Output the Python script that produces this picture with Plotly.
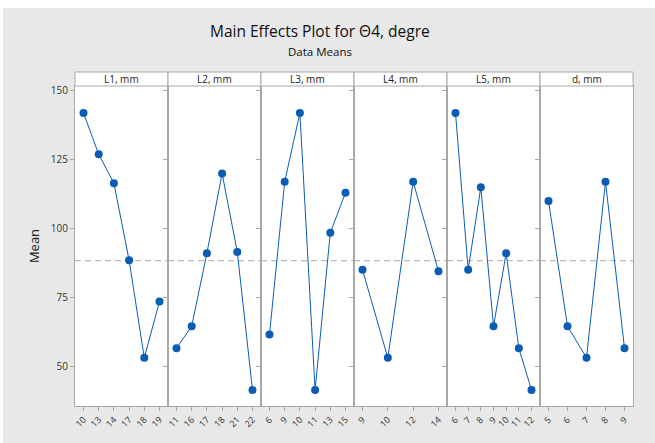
import plotly.graph_objects as go
from plotly.subplots import make_subplots

# ---- data ----
factor_names = ["L1, mm", "L2, mm", "L3, mm", "L4, mm", "L5, mm", "d, mm"]
L1_levels = ["10", "13", "14", "17", "18", "19"]
L1_means = [142, 127, 116.5, 88.5, 53, 73.5]
L2_levels = ["11", "16", "17", "18", "21", "22"]
L2_means = [56.5, 64.5, 91, 120, 91.5, 41.3]
L3_levels = ["6", "9", "10", "11", "13", "15"]
L3_means = [61.5, 117, 142, 41.3, 98.5, 113]
L4_levels = ["9", "10", "12", "14"]
L4_means = [85, 53, 117, 84.5]
L5_levels = ["6", "7", "8", "9", "10", "11", "12"]
L5_means = [142, 85, 115, 64.5, 91, 56.5, 41.3]
d_levels = ["5", "6", "7", "8", "9"]
d_means = [110, 64.5, 53, 117, 56.5]
overall_mean = 88.3
y_ticks = [50, 75, 100, 125, 150]

factors = [
    (factor_names[0], L1_levels, L1_means),
    (factor_names[1], L2_levels, L2_means),
    (factor_names[2], L3_levels, L3_means),
    (factor_names[3], L4_levels, L4_means),
    (factor_names[4], L5_levels, L5_means),
    (factor_names[5], d_levels, d_means),
]

BLUE = "#0a5cb4"
FRAME = "#a8a8a8"
BG = "#e8e8e8"
FONT = "Open Sans"

W, H = 655, 443
ML, MR, MT, MB = 75, 22, 86, 37
PW = W - ML - MR
PH = H - MT - MB
panel_w = PW / 6.0
edge_px = 8.5
strip_h = 14

def py(Y):  # pixel row -> paper y
    return (MT + PH - Y) / PH

def px(X):  # pixel col -> paper x
    return (X - ML) / PW

fig = make_subplots(rows=1, cols=6, shared_yaxes=True, horizontal_spacing=0)

for i, (name, levels, means) in enumerate(factors):
    n = len(levels)
    xs = list(range(n))
    fig.add_trace(
        go.Scatter(
            x=xs, y=means, mode="lines+markers",
            line=dict(color=BLUE, width=1),
            marker=dict(size=8, color=BLUE),
            showlegend=False, hoverinfo="x+y", cliponaxis=False,
        ),
        row=1, col=i + 1,
    )
    gap = (panel_w - 2 * edge_px) / (n - 1)
    pad = edge_px / gap
    fig.update_xaxes(
        range=[-pad, n - 1 + pad], tickmode="array", tickvals=xs, ticktext=levels,
        tickangle=-45, ticks="outside", ticklen=4, tickcolor=FRAME,
        tickfont=dict(family=FONT, size=9, color="#333333"),
        showline=True, mirror=True, linecolor=FRAME, linewidth=1,
        showgrid=False, zeroline=False,
        row=1, col=i + 1,
    )
    ref = "x domain" if i == 0 else f"x{i+1} domain"
    fig.add_shape(type="rect", xref=ref, yref="paper", x0=0, x1=1, y0=1, y1=1 + strip_h / PH,
                  fillcolor="white", line=dict(color=FRAME, width=1))
    fig.add_annotation(xref=ref, yref="paper", x=0.5, y=1 + (strip_h / 2) / PH, text=name,
                       showarrow=False, yanchor="middle",
                       font=dict(family=FONT, size=10, color="#222222"))
    # overall mean reference line (per panel, beneath the data)
    yref = "y" if i == 0 else f"y{i+1}"
    fig.add_shape(type="line", xref=ref, yref=yref, x0=0, x1=1, y0=overall_mean, y1=overall_mean,
                  line=dict(color="#bcbcbc", width=1.2, dash="6px,4px"), layer="below")

fig.update_yaxes(
    range=[35.5, 151.8], tickmode="array", tickvals=y_ticks,
    ticks="outside", ticklen=4, tickcolor=FRAME,
    tickfont=dict(family=FONT, size=10, color="#333333"),
    showline=True, mirror=True, linecolor=FRAME, linewidth=1,
    showgrid=False, zeroline=False,
)
fig.update_yaxes(title=dict(text="Mean", font=dict(family=FONT, size=13, color="#222222"), standoff=8),
                 row=1, col=1)

# white band at top/left of image (outside gray panel)
fig.add_shape(type="rect", xref="paper", yref="paper",
              x0=px(-10), x1=px(W + 10), y0=py(8), y1=py(-5),
              fillcolor="white", line=dict(width=0), layer="below")
fig.add_shape(type="rect", xref="paper", yref="paper",
              x0=px(-10), x1=px(3), y0=py(H + 10), y1=py(-5),
              fillcolor="white", line=dict(width=0), layer="below")

fig.add_annotation(xref="paper", yref="paper", x=px(320), y=py(31),
                   text="Main Effects Plot for Θ4, degre", showarrow=False, yanchor="middle",
                   font=dict(family=FONT, size=15.5, color="#111111"))
fig.add_annotation(xref="paper", yref="paper", x=px(320), y=py(51),
                   text="Data Means", showarrow=False, yanchor="middle",
                   font=dict(family=FONT, size=11.5, color="#111111"))

fig.update_layout(
    width=W, height=H,
    margin=dict(l=ML, r=MR, t=MT, b=MB),
    paper_bgcolor=BG, plot_bgcolor="white",
    font=dict(family=FONT),
)

fig.write_html("out.html", config={"displayModeBar": False},
               post_script="document.body.style.margin='0';document.body.style.overflow='hidden';")
